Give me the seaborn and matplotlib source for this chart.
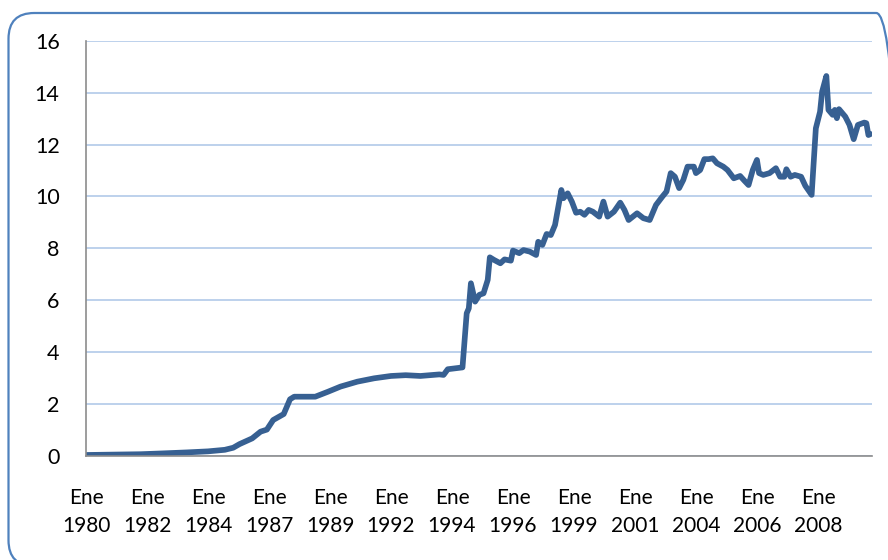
import matplotlib
matplotlib.use("Agg")
import matplotlib.pyplot as plt
from matplotlib.patches import FancyBboxPatch
import seaborn as sns
import pandas as pd

# ---- data ----
months = [0, 26, 36, 48, 58, 66, 70, 73, 79, 83, 86, 89, 94, 97, 99, 109, 115, 121,
          129, 137, 145, 152, 159, 168, 170, 172, 179, 181, 182, 183, 185, 187, 189,
          191, 192, 194, 197, 199, 202, 203, 206, 208, 211, 214, 215, 217, 219, 221,
          223, 225, 226, 227, 229, 231, 233, 235, 237, 239, 241, 244, 246, 248, 251,
          254, 256, 258, 262, 265, 268, 271, 274, 276, 278, 280, 282, 284, 286, 289,
          290, 292, 294, 296, 298, 300, 303, 305, 308, 311, 313, 315, 317, 319, 320,
          322, 325, 328, 330, 332, 333, 335, 337, 340, 342, 345, 347, 349, 350, 352,
          353, 355, 356, 357, 358, 361, 363, 365, 367, 370, 371, 372, 373]
values = [0.02, 0.05, 0.08, 0.12, 0.16, 0.22, 0.30, 0.44, 0.66, 0.92, 1.00, 1.37, 1.60,
          2.17, 2.27, 2.27, 2.46, 2.66, 2.85, 2.98, 3.07, 3.10, 3.07, 3.13, 3.11, 3.33,
          3.40, 5.49, 5.68, 6.65, 5.94, 6.20, 6.26, 6.78, 7.65, 7.55, 7.42, 7.57, 7.52,
          7.91, 7.81, 7.93, 7.87, 7.74, 8.25, 8.13, 8.55, 8.51, 8.90, 9.80, 10.25, 9.93,
          10.12, 9.80, 9.37, 9.41, 9.29, 9.48, 9.41, 9.22, 9.80, 9.22, 9.41, 9.76, 9.48,
          9.09, 9.35, 9.16, 9.09, 9.67, 9.99, 10.19, 10.90, 10.76, 10.32, 10.64, 11.15,
          11.15, 10.90, 11.02, 11.44, 11.44, 11.47, 11.28, 11.15, 11.02, 10.70, 10.79,
          10.61, 10.44, 11.02, 11.41, 10.90, 10.83, 10.90, 11.09, 10.76, 10.76, 11.05,
          10.76, 10.83, 10.76, 10.41, 10.06, 12.63, 13.27, 14.05, 14.65, 13.34, 13.15,
          13.34, 13.02, 13.37, 13.08, 12.76, 12.21, 12.76, 12.85, 12.83, 12.37, 12.41]
tick_months = [0, 29, 58, 87, 116, 145, 174, 203, 232, 261, 290, 319, 348]
tick_labels = ["Ene\n1980", "Ene\n1982", "Ene\n1984", "Ene\n1987", "Ene\n1989",
               "Ene\n1992", "Ene\n1994", "Ene\n1996", "Ene\n1999", "Ene\n2001",
               "Ene\n2004", "Ene\n2006", "Ene\n2008"]
y_ticks = [0, 2, 4, 6, 8, 10, 12, 14, 16]

df = pd.DataFrame({"mes": months, "valor": values})

sns.set_theme(style="white")
plt.rcParams["font.family"] = ["Lato", "DejaVu Sans"]

fig = plt.figure(figsize=(8.88, 5.6), dpi=100)
ax = fig.add_axes([86 / 888, 1 - 455.5 / 560, (872 - 86) / 888, (455.5 - 41) / 560])

# rounded chart-area border (right and bottom edges run off the image)
border = FancyBboxPatch((8.5 / 888, -6 / 560), (902 - 8.5) / 888, (547 + 6) / 560,
                        boxstyle="round,pad=0,rounding_size=0.029",
                        transform=fig.transFigure, fill=False,
                        edgecolor="#4F81BD", linewidth=1.6, zorder=0,
                        mutation_aspect=888 / 560)
fig.patches.append(border)

sns.lineplot(data=df, x="mes", y="valor", ax=ax, color="#376092",
             linewidth=4.1, solid_joinstyle="round", solid_capstyle="round")

ax.set_xlim(0, 373.7)
ax.set_ylim(0, 16)
ax.set_xticks(tick_months)
ax.set_xticklabels(tick_labels, fontsize=15, linespacing=1.5)
ax.set_yticks(y_ticks)
ax.set_yticklabels([str(v) for v in y_ticks], fontsize=15.5)
ax.set_xlabel("")
ax.set_ylabel("")

ax.yaxis.grid(True, color="#B7CEEA", linewidth=1.3)
ax.xaxis.grid(False)
ax.set_axisbelow(True)

for s in ["top", "right"]:
    ax.spines[s].set_visible(False)
for s in ["left", "bottom"]:
    ax.spines[s].set_color("#8C8C8C")
    ax.spines[s].set_linewidth(1.2)

ax.tick_params(axis="x", direction="out", length=6, width=1.2, color="#8C8C8C",
               pad=17.5, labelcolor="black")
ax.tick_params(axis="y", direction="out", length=7, width=1.2, color="#8C8C8C",
               pad=12, labelcolor="black")
ax.patch.set_alpha(0)

fig.savefig("out.png", dpi=100)
